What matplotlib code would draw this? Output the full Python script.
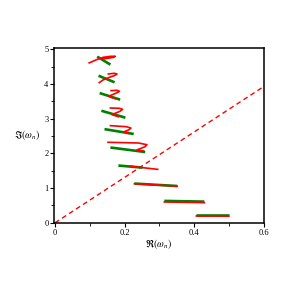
import matplotlib
matplotlib.use("Agg")
import matplotlib.pyplot as plt
import numpy as np

plt.rcParams['font.family'] = ['Liberation Serif', 'DejaVu Serif']
plt.rcParams['mathtext.fontset'] = 'stix'

# green branches (Re, Im)
green_x = [
    [0.121, 0.159],
    [0.125, 0.171],
    [0.128, 0.187],
    [0.133, 0.202],
    [0.142, 0.226],
    [0.159, 0.259],
    [0.182, 0.251],
    [0.228, 0.351],
    [0.314, 0.429],
    [0.406, 0.499],
]
green_y = [
    [4.79, 4.56],
    [4.24, 4.05],
    [3.74, 3.55],
    [3.23, 3.03],
    [2.70, 2.56],
    [2.17, 2.04],
    [1.65, 1.59],
    [1.13, 1.06],
    [0.63, 0.61],
    [0.233, 0.233],
]

# red branches
red_x = [
    [0.098, 0.121, 0.138, 0.160, 0.173, 0.168, 0.150, 0.135],
    [0.153, 0.170, 0.178, 0.172, 0.158, 0.138, 0.127],
    [0.161, 0.178, 0.185, 0.176, 0.154, 0.163, 0.173],
    [0.159, 0.185, 0.194, 0.186, 0.163, 0.172, 0.182],
    [0.159, 0.205, 0.218, 0.212, 0.197, 0.204, 0.211],
    [0.152, 0.240, 0.264, 0.258, 0.235, 0.245, 0.254],
    [0.216, 0.295],
    [0.228, 0.351],
    [0.314, 0.429],
    [0.406, 0.499],
]
red_y = [
    [4.61, 4.71, 4.77, 4.80, 4.80, 4.77, 4.74, 4.72],
    [4.29, 4.31, 4.29, 4.25, 4.20, 4.12, 4.04],
    [3.81, 3.82, 3.79, 3.74, 3.65, 3.61, 3.58],
    [3.31, 3.30, 3.27, 3.21, 3.12, 3.09, 3.06],
    [2.80, 2.77, 2.73, 2.68, 2.62, 2.60, 2.58],
    [2.32, 2.30, 2.25, 2.19, 2.10, 2.08, 2.07],
    [1.63, 1.54],
    [1.125, 1.055],
    [0.60, 0.58],
    [0.195, 0.19],
]

diag_x = [0.0, 0.6]
diag_y = [0.0, 3.93]

fig = plt.figure(figsize=(2.89, 2.89), dpi=100)
ax = fig.add_axes([0.187, 0.228, 0.726, 0.606])

ax.plot(diag_x, diag_y, color='red', lw=1.0, ls=(0, (3.5, 2.5)))

for gx, gy in zip(green_x, green_y):
    ax.plot(gx, gy, color='#008000', lw=1.9, solid_capstyle='butt')
for rx, ry in zip(red_x, red_y):
    ax.plot(rx, ry, color='red', lw=1.2, solid_joinstyle='round')

ax.set_xlim(-0.003, 0.6)
ax.set_ylim(-0.01, 5.04)
ax.set_xticks([0, 0.2, 0.4, 0.6])
ax.set_xticklabels(['0', '0.2', '0.4', '0.6'])
ax.set_xticks(np.arange(0, 0.61, 0.1), minor=True)
ax.set_yticks([0, 1, 2, 3, 4, 5])
ax.set_yticks(np.arange(0, 5.1, 0.5), minor=True)
ax.tick_params(which='major', direction='out', length=3, width=0.8,
               labelsize=6, pad=1)
ax.tick_params(which='minor', direction='out', length=2, width=0.6)
for s in ax.spines.values():
    s.set_linewidth(1.1)

ax.set_xlabel(r'$\Re(\omega_n)$', fontsize=7, labelpad=0)
ax.set_ylabel(r'$\Im(\omega_n)$', fontsize=7, rotation=0, labelpad=12,
              va='center')

fig.savefig('out.png', dpi=100)
